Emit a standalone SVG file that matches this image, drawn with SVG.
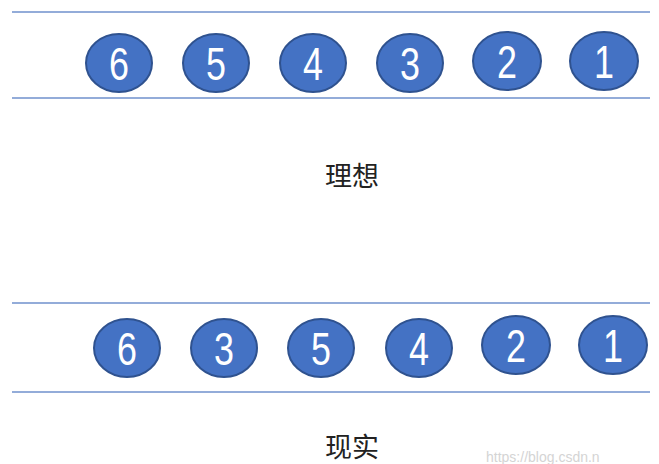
<svg xmlns="http://www.w3.org/2000/svg" width="659" height="464" viewBox="0 0 659 464">
<style>
.ln{stroke:#6f91cc;stroke-width:1.5}
.c{fill:#4472c4;stroke:#2f528f;stroke-width:2}
.n{fill:#fff;font-family:"Liberation Sans","DejaVu Sans",sans-serif;font-size:46px;text-anchor:middle}
.lbl{fill:#222;font-family:"Noto Sans CJK SC",sans-serif;font-size:27px;text-anchor:middle}
.wm{fill:#d4d4d4;font-family:"Liberation Sans",sans-serif;font-size:14px}
</style>
<rect width="659" height="464" fill="#fff"/>
<g id="lines">
<line class="ln" x1="12" y1="12" x2="650" y2="12"/>
<line class="ln" x1="12" y1="98" x2="650" y2="98"/>
<line class="ln" x1="12" y1="303" x2="650" y2="303"/>
<line class="ln" x1="12" y1="392" x2="650" y2="392"/>
</g>
<g id="ideal-6"><ellipse class="c" cx="119" cy="63" rx="33" ry="29"/><text class="n" transform="translate(119,80) scale(0.78,1)">6</text></g>
<g id="ideal-5"><ellipse class="c" cx="216" cy="63" rx="33" ry="29"/><text class="n" transform="translate(216,80) scale(0.78,1)">5</text></g>
<g id="ideal-4"><ellipse class="c" cx="313" cy="63" rx="33" ry="29"/><text class="n" transform="translate(313,80) scale(0.78,1)">4</text></g>
<g id="ideal-3"><ellipse class="c" cx="410" cy="63" rx="33" ry="29"/><text class="n" transform="translate(410,80) scale(0.78,1)">3</text></g>
<g id="ideal-2"><ellipse class="c" cx="507" cy="61" rx="34" ry="29"/><text class="n" transform="translate(507,78) scale(0.78,1)">2</text></g>
<g id="ideal-1"><ellipse class="c" cx="604" cy="61" rx="34" ry="29"/><text class="n" transform="translate(604,78) scale(0.78,1)">1</text></g>
<text class="lbl" x="352" y="186">理想</text>
<g id="real-6"><ellipse class="c" cx="127" cy="348" rx="33" ry="29"/><text class="n" transform="translate(127,365) scale(0.78,1)">6</text></g>
<g id="real-3"><ellipse class="c" cx="224" cy="348" rx="33" ry="29"/><text class="n" transform="translate(224,365) scale(0.78,1)">3</text></g>
<g id="real-5"><ellipse class="c" cx="321" cy="348" rx="33" ry="29"/><text class="n" transform="translate(321,365) scale(0.78,1)">5</text></g>
<g id="real-4"><ellipse class="c" cx="419" cy="348" rx="33" ry="29"/><text class="n" transform="translate(419,365) scale(0.78,1)">4</text></g>
<g id="real-2"><ellipse class="c" cx="516" cy="345" rx="34" ry="29"/><text class="n" transform="translate(516,362) scale(0.78,1)">2</text></g>
<g id="real-1"><ellipse class="c" cx="613" cy="345" rx="34" ry="29"/><text class="n" transform="translate(613,362) scale(0.78,1)">1</text></g>
<text class="lbl" x="352" y="457">现实</text>
<text class="wm" x="486" y="462">https://blog.csdn.n</text>
</svg>
